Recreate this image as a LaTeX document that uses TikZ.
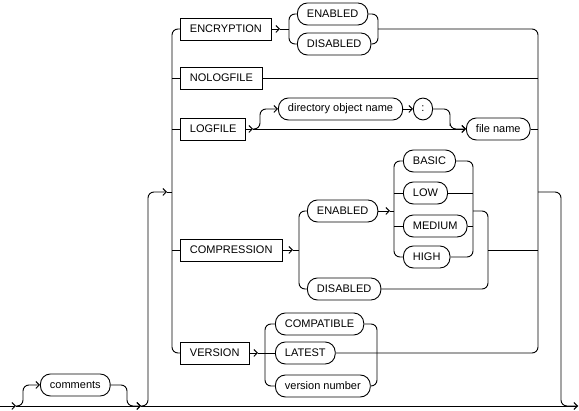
\documentclass[tikz,border=0pt]{standalone}
\usepackage{fontspec}
\setmainfont{Liberation Sans}
\usetikzlibrary{arrows.meta}
\begin{document}
\begin{tikzpicture}[x=1pt,y=-1pt,
  line width=0.9pt,
  >={Straight Barb[length=3.5pt,width=7pt]},
  kw/.style={draw, rectangle, minimum height=22pt, inner xsep=9.5pt, inner ysep=0pt, anchor=west, font=\fontsize{11}{13}\selectfont},
  tm/.style={draw, rectangle, rounded corners=10pt, minimum height=22pt, inner xsep=9.5pt, inner ysep=0pt, anchor=west, font=\fontsize{11}{13}\selectfont},
  rc/.style={rounded corners=6pt}]
\useasboundingbox (0,0) rectangle (579,411);
% nodes
\node[kw] (enc) at (180,29) {ENCRYPTION};
\node[tm] (encE) at (297,14) {ENABLED};
\node[tm] (encD) at (297,44) {DISABLED};
\node[kw] (nolog) at (180,78) {NOLOGFILE};
\node[kw] (log) at (180,129) {LOGFILE};
\node[tm] (dir) at (278,109) {directory object name};
\node[tm, inner xsep=8pt] (col) at (413,109) {:};
\node[tm] (fn) at (466,129) {file name};
\node[kw] (comp) at (180,250) {COMPRESSION};
\node[tm] (cE) at (307,211) {ENABLED};
\node[tm] (cD) at (307,289) {DISABLED};
\node[tm] (basic) at (403,161) {BASIC};
\node[tm] (low) at (403,193) {LOW};
\node[tm] (med) at (403,226) {MEDIUM};
\node[tm] (high) at (403,257) {HIGH};
\node[kw] (ver) at (180,353) {VERSION};
\node[tm] (compat) at (275,324) {COMPATIBLE};
\node[tm] (latest) at (275,353) {LATEST};
\node[tm] (vnum) at (275,386) {version number};
\node[tm] (cmt) at (40,385) {comments};
% coordinates
\coordinate (s) at (0,406);
\coordinate (j1) at (16,406);
\coordinate (cm2) at (127,406);
\coordinate (j2) at (141,406);
\coordinate (e) at (578,406);
\coordinate (lp) at (167,192);
\coordinate (bL) at (172,192);
\coordinate (bR) at (538,192);
\coordinate (xo) at (561,192);
% main line
\draw[->] (s) -- (j1);
\draw[->] (j1) -- (j2);
\draw[->] (j2) -- (e);
\draw[->,rc] (j1) -- ++(7,0) |- (cmt.west);
\draw[->,rc] (cmt.east) -| (cm2) -- (j2);
\draw[->,rc] (j2) -- (148,406) -- (148,192) -- (lp);
\draw (lp) -- (bL);
% left bus
\draw[rc] (enc.west) -- (enc.west -| bL) -- (ver.west -| bL) -- (ver.west);
\draw (nolog.west -| bL) -- (nolog.west);
\draw (log.west -| bL) -- (log.west);
\draw (comp.west -| bL) -- (comp.west);
% encryption
\coordinate (encA) at (280,29);
\coordinate (encV) at (289,29);
\draw[->] (enc.east) -- (encA);
\draw (encA) -- (encV);
\draw[rc] (encE.west) -| (encV) |- (encD.west);
\coordinate (encM) at (378,29);
\draw[rc] (encE.east) -| (encM) |- (encD.east);
\draw[rc] (encM) -- (encM -| bR) -- (latest.east -| bR) -- (latest.east);
% nologfile
\draw (nolog.east) -- (nolog.east -| bR);
% logfile
\coordinate (logA) at (253,129);
\draw[->] (log.east) -- (logA);
\draw[->] (logA) -- (fn.west);
\draw[->,rc] (logA) -- ++(7,0) |- (dir.west);
\draw[->] (dir.east) -- (col.west);
\coordinate (colV) at (450,120);
\draw[->,rc] (col.east) -| (colV) |- (fn.west);
\draw (fn.east) -- (fn.east -| bR);
% compression
\coordinate (cA) at (293,250);
\coordinate (cV) at (299,250);
\draw[->] (comp.east) -- (cA);
\draw (cA) -- (cV);
\draw[rc] (cE.west) -| (cV) |- (cD.west);
\coordinate (eA) at (390,211);
\coordinate (eV) at (394,211);
\draw[->] (cE.east) -- (eA);
\draw (eA) -- (eV);
\draw[rc] (basic.west) -| (eV) |- (high.west);
\draw (low.west -| eV) -- (low.west);
\draw (med.west -| eV) -- (med.west);
\coordinate (eM) at (473,211);
\draw[rc] (basic.east) -| (eM) |- (high.east);
\draw (low.east) -- (low.east -| eM);
\draw (med.east) -- (med.east -| eM);
\coordinate (cM) at (488,250);
\draw[rc] (eM) -| (cM) |- (cD.east);
\draw (cM) -- (cM -| bR);
% version
\coordinate (vA) at (258,353);
\coordinate (vV) at (265,353);
\draw[->] (ver.east) -- (vA);
\draw (vA) -- (vV);
\draw[rc] (compat.west) -| (vV) |- (vnum.west);
\draw (vV) -- (latest.west);
\coordinate (vM) at (377,353);
\draw[rc] (compat.east) -| (vM) |- (vnum.east);
% exit
\draw[rc] (bR) -- (xo) |- (e);
\end{tikzpicture}
\end{document}
